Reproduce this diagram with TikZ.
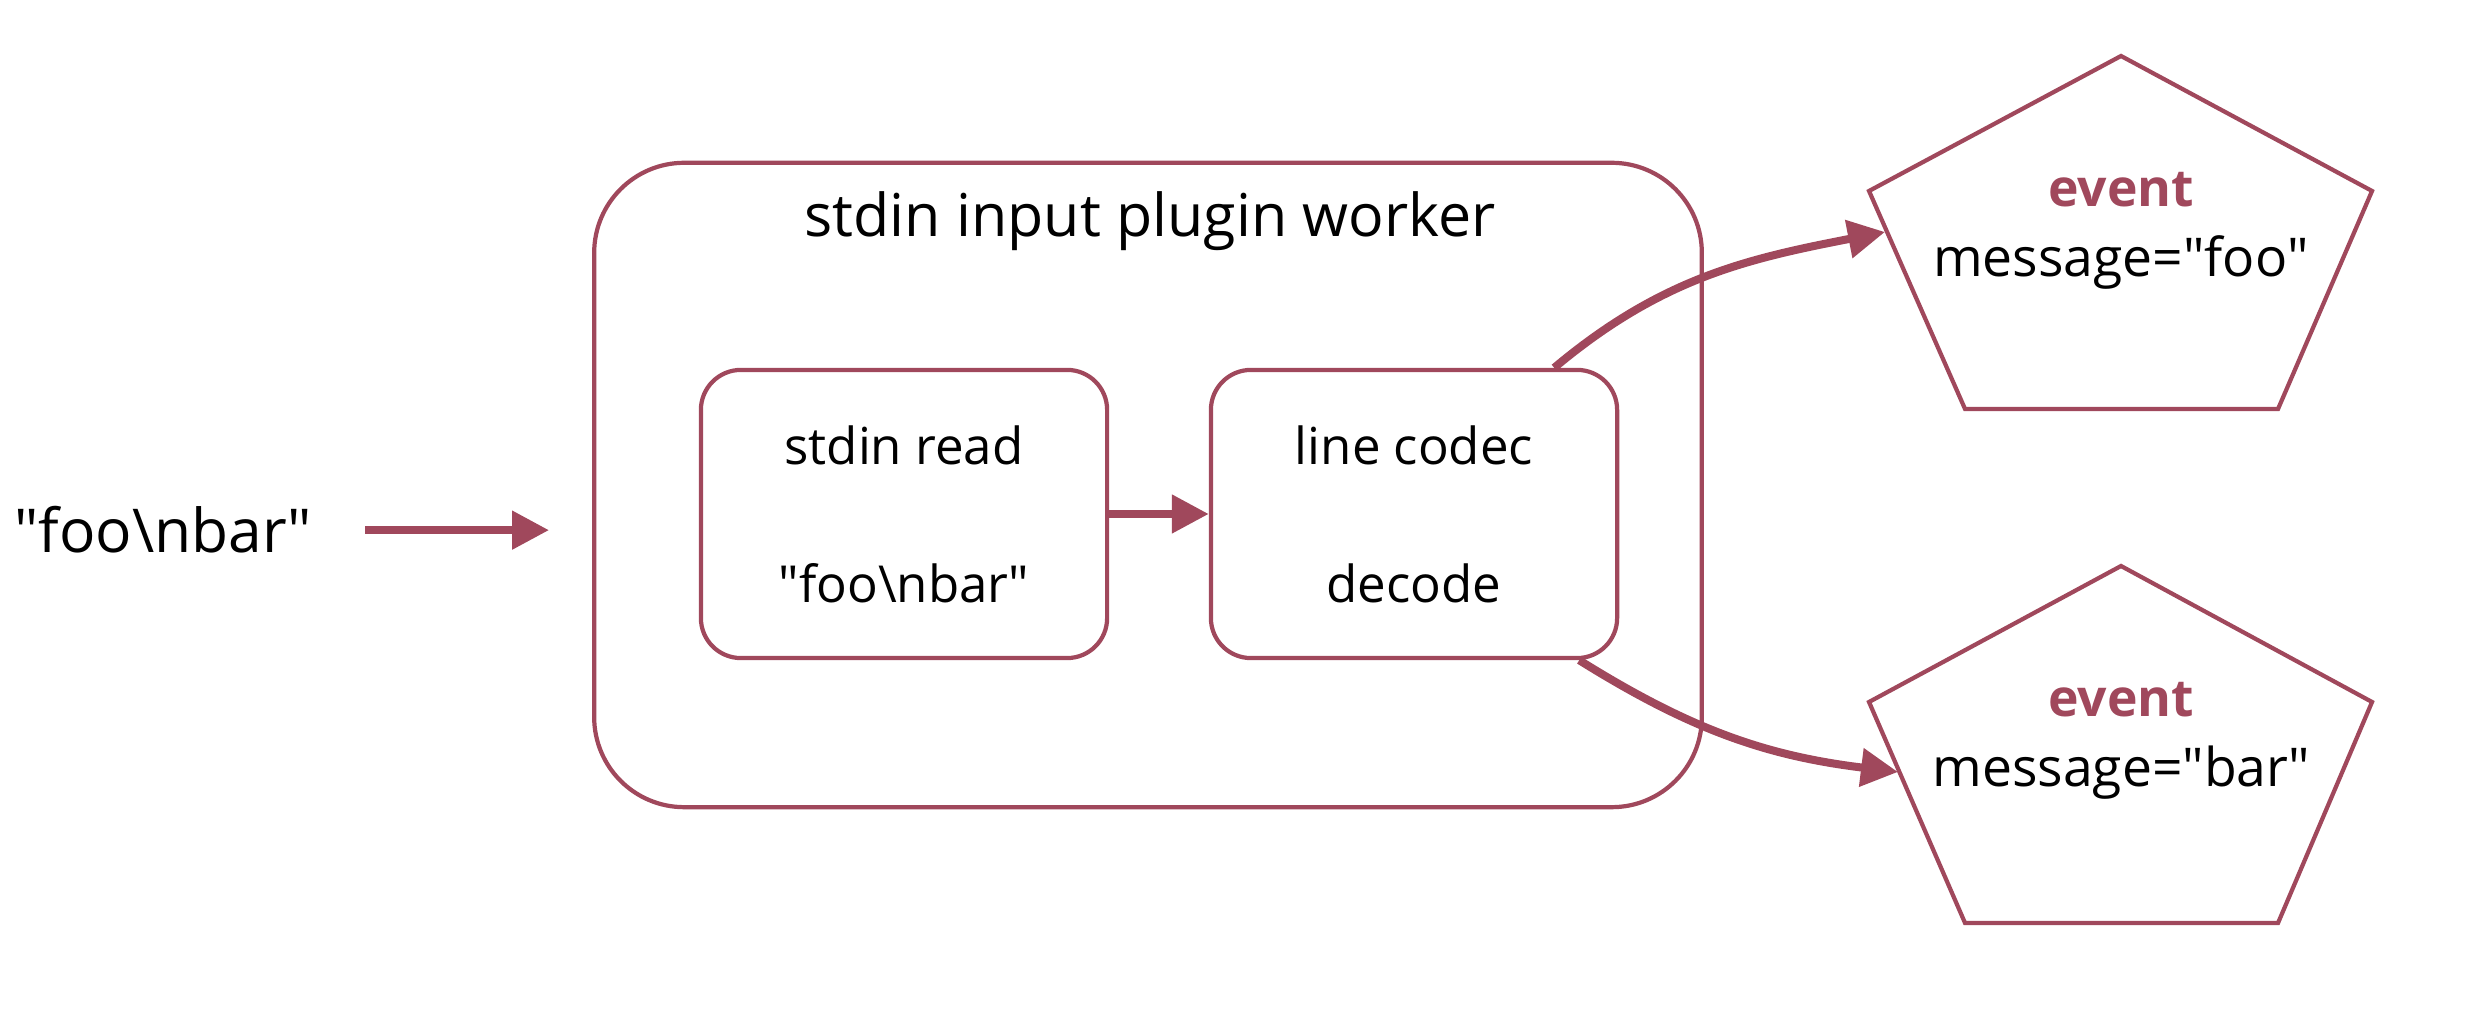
\documentclass[tikz,border=0pt]{standalone}
\usepackage{fontspec}
\setmainfont{Open Sans}
\usepackage{tikz}
\usetikzlibrary{arrows.meta}
\definecolor{wine}{RGB}{160,72,92}

\begin{document}
\begin{tikzpicture}[x=0.01cm, y=0.01cm, line width=1.2pt,
    box/.style={draw=wine, rounded corners=0.4cm, minimum width=4.06cm, minimum height=2.88cm},
    boxtext/.style={anchor=base, font=\fontsize{14.5}{17}\selectfont},
    evhead/.style={anchor=base, text=wine, font=\fontsize{14.7}{17}\selectfont\bfseries},
    evmsg/.style={anchor=base, font=\fontsize{15.2}{18}\selectfont},
    flow/.style={draw=wine, line width=0.08cm, -{Triangle[length=0.37cm, width=0.37cm]}},
    evline/.style={draw=wine, line width=1.2pt, line join=miter}]
    \useasboundingbox (0, 0) rectangle (2492, 1034);

    % draw outer worker box
    \node[box, rounded corners=0.9cm, minimum width=11.07cm, minimum height=6.44cm] (worker) at (1148, 549) {};
    \node[anchor=base, font=\fontsize{16.8}{20}\selectfont] (title) at (1150, 797) {stdin input plugin worker};

    % draw inner boxes
    \node[box] (read) at (904, 520) {};
    \node[box] (codec) at (1414, 520) {};
    \node[boxtext] (readtop) at (904, 569) {stdin read};
    \node[boxtext] (readbot) at (904, 431) {\textquotedbl foo\textbackslash nbar\textquotedbl};
    \node[boxtext] (codectop) at (1414, 569) {line codec};
    \node[boxtext] (codecbot) at (1414, 431) {decode};

    % draw input text
    \node[anchor=base, font=\fontsize{17.2}{20}\selectfont] (input) at (163, 481) {\textquotedbl foo\textbackslash nbar\textquotedbl};

    % draw event pentagons
    \draw[evline] (2121, 978) -- (2372, 843) -- (2278, 625) -- (1965, 625) -- (1869, 843) -- cycle;
    \draw[evline] (2121, 468) -- (2372, 332) -- (2278, 111) -- (1965, 111) -- (1869, 332) -- cycle;
    \node[evhead] (foohead) at (2121, 827) {event};
    \node[evmsg] (foomsg) at (2121, 757) {message=\textquotedbl foo\textquotedbl};
    \node[evhead] (barhead) at (2121, 317) {event};
    \node[evmsg] (barmsg) at (2121, 247) {message=\textquotedbl bar\textquotedbl};
    \coordinate (fooin) at (1885, 802);
    \coordinate (barin) at (1898, 262);

    % draw arrows
    \draw[flow, shorten <=0.4cm, shorten >=0.43cm] (input.east) -- (input.east -| worker.west);
    \draw[flow] (read) -- (codec);
    \draw[flow] ([xshift=-0.65cm]codec.north east) to[out=40, in=191] (fooin);
    \draw[flow] ([xshift=-0.4cm]codec.south east) to[out=-32, in=173] (barin);

\end{tikzpicture}
\end{document}
